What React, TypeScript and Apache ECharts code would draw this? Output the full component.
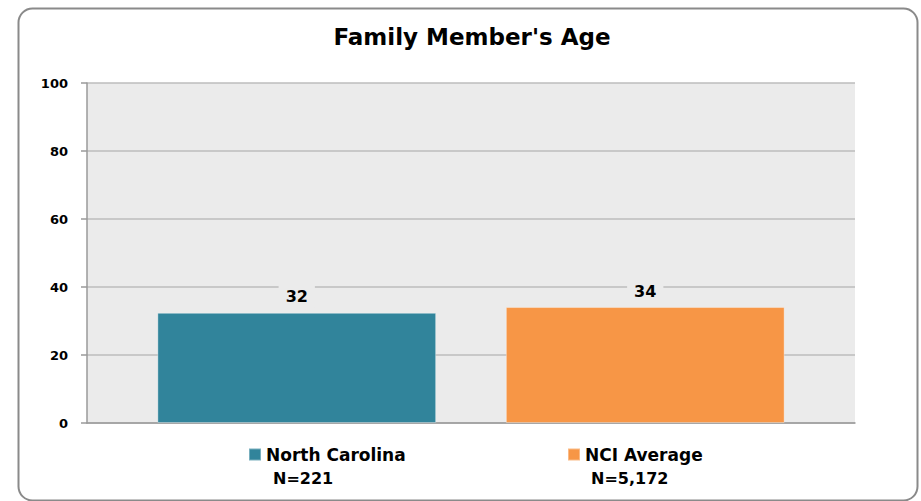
import React, { useEffect, useRef } from "react";
import * as echarts from "echarts";

const titleText = "Family Member's Age";
const seriesNames = ["North Carolina", "NCI Average"];
const seriesValues = [32.4, 34.1];
const sampleSizes = ["N=221", "N=5,172"];
const seriesColors = ["#31849B", "#F79646"];
const yTicks = { min: 0, max: 100, interval: 20 };

const FONT = "DejaVu Sans";

export default function App() {
  const ref = useRef<HTMLDivElement>(null);
  useEffect(() => {
    if (!ref.current) return;
    const chart = echarts.init(ref.current, undefined, { renderer: "svg" });
    const legendText = { fontFamily: FONT, fontWeight: "bold", fontSize: 17, color: "#000", lineHeight: 19 };
    const option: any = {
      animation: false,
      backgroundColor: "#ffffff",
      textStyle: { fontFamily: FONT },
      title: {
        text: titleText,
        left: 467,
        textAlign: "center",
        top: 20,
        textStyle: { fontFamily: FONT, fontWeight: "bold", fontSize: 23, color: "#000" },
      },
      legend: [
        {
          data: [seriesNames[0]],
          left: 248,
          top: 445,
          padding: 0,
          itemWidth: 12,
          itemHeight: 12,
          itemGap: 5,
          icon: "rect",
          textStyle: legendText,
        },
        {
          data: [seriesNames[1]],
          left: 567,
          top: 445,
          padding: 0,
          itemWidth: 12,
          itemHeight: 12,
          itemGap: 5,
          icon: "rect",
          textStyle: legendText,
        },
      ],
      grid: { left: 87, right: 66, top: 83, bottom: 78, show: true, backgroundColor: "#EBEBEB", borderWidth: 0 },
      xAxis: {
        type: "category",
        data: [""],
        axisLine: { show: true, lineStyle: { color: "#9a9a9a", width: 1.5 } },
        axisTick: { show: false },
        axisLabel: { show: false },
      },
      yAxis: {
        type: "value",
        min: yTicks.min,
        max: yTicks.max,
        interval: yTicks.interval,
        axisLine: { show: true, lineStyle: { color: "#9a9a9a", width: 1.5 } },
        axisTick: { show: true, length: 6, lineStyle: { color: "#9a9a9a", width: 1.5 } },
        axisLabel: { margin: 19, fontFamily: FONT, fontWeight: "bold", fontSize: 13, color: "#000" },
        splitLine: { show: true, lineStyle: { color: "#BDBDBD", width: 1.5 } },
      },
      series: seriesNames.map((name, i) => ({
        name,
        type: "bar",
        data: [seriesValues[i]],
        barWidth: "36.3%",
        barGap: "25%",
        itemStyle: { color: seriesColors[i], borderColor: "rgba(255,255,255,0.35)", borderWidth: 1 },
        label: {
          show: true,
          position: "top",
          distance: 5,
          formatter: (p: any) => String(Math.round(p.value)),
          fontFamily: FONT,
          fontWeight: "bold",
          fontSize: 16,
          color: "#000",
          backgroundColor: "#EBEBEB",
          padding: [3, 7],
        },
      })),
      graphic: [
        {
          type: "rect",
          left: 16,
          top: 6,
          shape: { width: 899, height: 492, r: 14 },
          style: { fill: "none", stroke: "#8a8a8a", lineWidth: 2 },
          silent: true,
          z: 100,
        },
        {
          type: "text",
          left: 273,
          top: 469,
          style: { text: sampleSizes[0], fontFamily: FONT, fontWeight: "bold", fontSize: 16, lineHeight: 18, fill: "#000" },
        },
        {
          type: "text",
          left: 591,
          top: 469,
          style: { text: sampleSizes[1], fontFamily: FONT, fontWeight: "bold", fontSize: 16, lineHeight: 18, fill: "#000" },
        },
      ],
    };
    chart.setOption(option);
    return () => chart.dispose();
  }, []);
  return <div ref={ref} style={{ position: "fixed", left: 0, top: 0, width: 921, height: 501 }} />;
}
